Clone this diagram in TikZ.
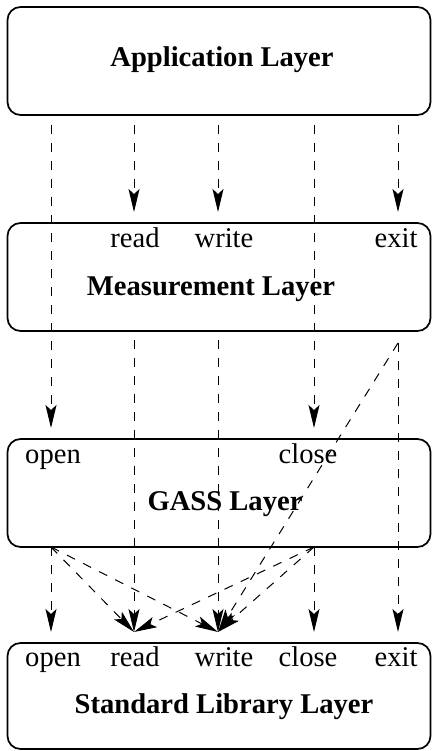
\documentclass[tikz,border=0pt]{standalone}
\usepackage{fontspec}
\setmainfont{Liberation Serif}
\usetikzlibrary{arrows.meta}
\begin{document}
\begin{tikzpicture}[x=1pt,y=-1pt,
  layer/.style={draw, line width=1.7pt, rounded corners=13pt, minimum width=423pt, inner sep=0pt},
  lbl/.style={anchor=base, inner sep=0pt, font=\fontsize{28.6}{34}\selectfont},
  ttl/.style={anchor=base, inner sep=0pt, font=\fontsize{28.6}{34}\selectfont\bfseries},
  flow/.style={line width=1pt, dash pattern=on 9pt off 9pt, -{Stealth[length=23pt,width=11pt,inset=5pt]}}]
\useasboundingbox (0,0) rectangle (431,751);
% boxes
\node[layer, minimum height=108pt] (app)  at (219,61)  {};
\node[layer, minimum height=108pt] (meas) at (219,277) {};
\node[layer, minimum height=108pt] (gass) at (219,493) {};
\node[layer, minimum height=106pt] (std)  at (219,696) {};
% titles
\node[ttl] (tapp)  at (222,67)  {Application Layer};
\node[ttl] (tmeas) at (211,295) {Measurement Layer};
\node[ttl] (tgass) at (225,510) {GASS Layer};
\node[ttl] (tstd)  at (224,713) {Standard Library Layer};
% labels
\node[lbl] (mread)  at (135,247) {read};
\node[lbl] (mwrite) at (224,247) {write};
\node[lbl] (mexit)  at (396,247) {exit};
\node[lbl] (gopen)  at (53,463)  {open};
\node[lbl] (gclose) at (308,463) {close};
\node[lbl] (sopen)  at (53,666)  {open};
\node[lbl] (sread)  at (135,666) {read};
\node[lbl] (swrite) at (224,666) {write};
\node[lbl] (sclose) at (308,666) {close};
\node[lbl] (sexit)  at (396,666) {exit};
% connector end points
\coordinate (aO) at (51,125);  \coordinate (aR) at (134,125); \coordinate (aW) at (218,125);
\coordinate (aC) at (314,125); \coordinate (aE) at (398,125);
\coordinate (mR) at (134,212); \coordinate (mW) at (218,212); \coordinate (mE) at (398,212);
\coordinate (mRo) at (134,340); \coordinate (mWo) at (218,340); \coordinate (mEo) at (398,343);
\coordinate (gO) at (51,428);  \coordinate (gC) at (314,428);
\coordinate (gOo) at (51,547); \coordinate (gCo) at (314,547);
\coordinate (sO) at (51,632);  \coordinate (sR) at (134,632); \coordinate (sW) at (218,632);
\coordinate (sC) at (314,632); \coordinate (sE) at (398,632);
% application -> lower layers
\draw[flow] (aO) -- (gO);
\draw[flow] (aR) -- (mR);
\draw[flow] (aW) -- (mW);
\draw[flow] (aC) -- (gC);
\draw[flow] (aE) -- (mE);
% measurement -> standard
\draw[flow] (mRo) -- (sR);
\draw[flow] (mWo) -- (sW);
\draw[flow] (mEo) -- (sE);
\draw[flow] (mEo) -- (sW);
% gass -> standard
\draw[flow] (gOo) -- (sO);
\draw[flow] (gCo) -- (sC);
\draw[flow] (gOo) -- (sR);
\draw[flow] (gOo) -- (sW);
\draw[flow] (gCo) -- (sR);
\draw[flow] (gCo) -- (sW);
\end{tikzpicture}
\end{document}
